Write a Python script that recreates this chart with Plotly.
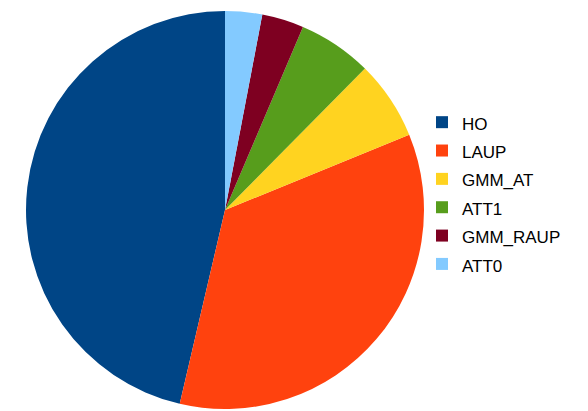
import plotly.graph_objects as go

# Share of each method (percent)
labels = ["HO", "LAUP", "GMM_AT", "ATT1", "GMM_RAUP", "ATT0"]
shares = [46.3, 34.8, 6.4, 6.0, 3.4, 3.0]
colors = ["#004586", "#ff420e", "#ffd320", "#579d1c", "#7e0021", "#83caff"]

W, H = 588, 411

# Plotly lays out counterclockwise pies so the first slice ends at the
# rotation angle; turn the pie so the first slice starts at 12 o'clock.
rotation = -360.0 * shares[0] / sum(shares)

# Legend rows are spaced by the legend font size; the label text itself
# is drawn a little smaller.
legend_text = [f"<span style='font-size:17px'>{name}</span>" for name in labels]

fig = go.Figure(
    go.Pie(
        labels=legend_text,
        values=shares,
        sort=False,
        direction="counterclockwise",
        rotation=rotation,
        marker=dict(colors=colors, line=dict(width=0)),
        textinfo="none",
        hovertemplate="%{label}: %{percent}<extra></extra>",
        domain=dict(x=[26 / W, 424 / W], y=[2 / H, 400 / H]),
    )
)

fig.update_layout(
    width=W,
    height=H,
    margin=dict(l=0, r=0, t=0, b=0),
    paper_bgcolor="white",
    plot_bgcolor="white",
    showlegend=True,
    legend=dict(
        x=422 / W,
        xanchor="left",
        y=1 - 103 / H,
        yanchor="top",
        font=dict(family="Liberation Sans, Arial, sans-serif", size=19.5, color="#000000"),
        bgcolor="rgba(0,0,0,0)",
        borderwidth=0,
        traceorder="normal",
    ),
)

fig.write_html("out.html")
